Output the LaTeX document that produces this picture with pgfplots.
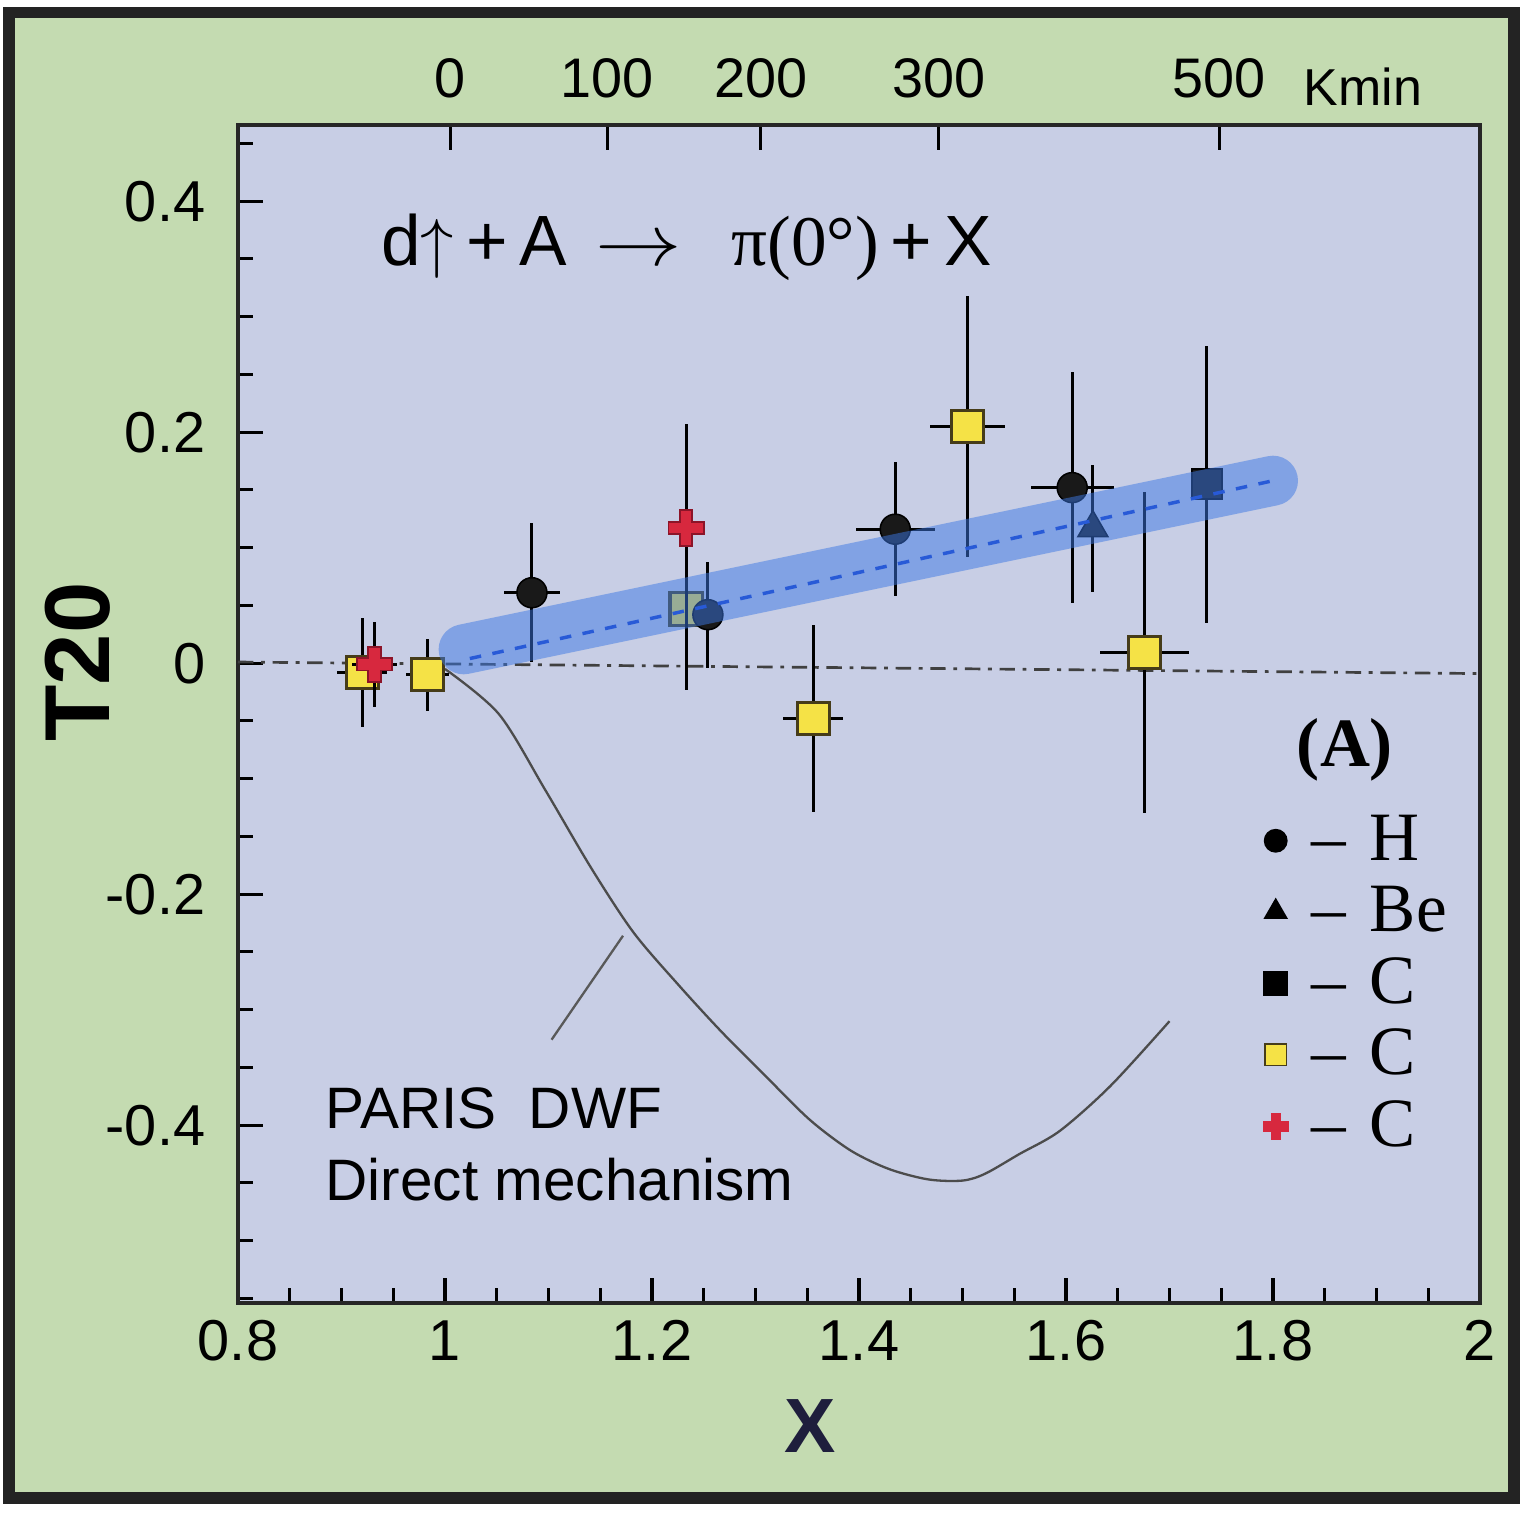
\documentclass[border=0pt]{standalone}
\usepackage{pgfplots}
\pgfplotsset{compat=1.18}
\usepackage{fontspec}
\setmainfont{Liberation Sans}
\newfontfamily\tnr{Liberation Serif}
\definecolor{greenbg}{RGB}{196,219,177}
\definecolor{axisbg}{RGB}{200,206,229}
\definecolor{framec}{RGB}{35,35,35}
\definecolor{yellowc}{RGB}{245,226,70}
\definecolor{yellowd}{RGB}{70,60,25}
\definecolor{redc}{RGB}{215,40,62}
\definecolor{redd}{RGB}{140,20,40}
\definecolor{bandc}{RGB}{60,120,228}
\definecolor{bandl}{RGB}{40,90,215}
\definecolor{navy}{RGB}{30,30,60}

\pgfdeclareplotmark{fatplus}{%
  \pgfpathmoveto{\pgfqpoint{-0.35\pgfplotmarksize}{\pgfplotmarksize}}%
  \pgfpathlineto{\pgfqpoint{0.35\pgfplotmarksize}{\pgfplotmarksize}}%
  \pgfpathlineto{\pgfqpoint{0.35\pgfplotmarksize}{0.35\pgfplotmarksize}}%
  \pgfpathlineto{\pgfqpoint{\pgfplotmarksize}{0.35\pgfplotmarksize}}%
  \pgfpathlineto{\pgfqpoint{\pgfplotmarksize}{-0.35\pgfplotmarksize}}%
  \pgfpathlineto{\pgfqpoint{0.35\pgfplotmarksize}{-0.35\pgfplotmarksize}}%
  \pgfpathlineto{\pgfqpoint{0.35\pgfplotmarksize}{-\pgfplotmarksize}}%
  \pgfpathlineto{\pgfqpoint{-0.35\pgfplotmarksize}{-\pgfplotmarksize}}%
  \pgfpathlineto{\pgfqpoint{-0.35\pgfplotmarksize}{-0.35\pgfplotmarksize}}%
  \pgfpathlineto{\pgfqpoint{-\pgfplotmarksize}{-0.35\pgfplotmarksize}}%
  \pgfpathlineto{\pgfqpoint{-\pgfplotmarksize}{0.35\pgfplotmarksize}}%
  \pgfpathlineto{\pgfqpoint{-0.35\pgfplotmarksize}{0.35\pgfplotmarksize}}%
  \pgfpathclose
  \pgfusepathqfillstroke
}

\pgfplotstableread{
x y ex ey
1.084 0.061 0.027 0.060
1.254 0.042 0.000 0.046
1.435 0.116 0.038 0.058
1.606 0.152 0.040 0.100
}\Hdata
\pgfplotstableread{
x y ex ey
1.626 0.117 0.000 0.055
}\Bedata
\pgfplotstableread{
x y ex ey
1.736 0.155 0.000 0.120
}\Cblack
\pgfplotstableread{
x y ex ey
0.920 -0.008 0.024 0.047
0.983 -0.010 0.021 0.031
1.233 0.047 0.000 0.070
1.356 -0.048 0.029 0.081
1.505 0.205 0.036 0.113
1.676 0.009 0.043 0.139
}\Cyellow
\pgfplotstableread{
x y ex ey
0.932 -0.001 0.022 0.037
1.233 0.117 0.000 0.090
}\Cred

\begin{document}
\begin{tikzpicture}
\useasboundingbox (0pt,0pt) rectangle (396.76pt,394.42pt);
\fill[white] (0pt,0pt) rectangle (396.76pt,394.42pt);
\filldraw[fill=greenbg, draw=framec, line width=3pt] (2.4pt,4.9pt) rectangle (393.6pt,391.2pt);

\begin{axis}[
  at={(61.88pt,55.64pt)}, anchor=south west,
  width=322.92pt, height=306.28pt, scale only axis,
  xmin=0.8, xmax=2.0, ymin=-0.554, ymax=0.466,
  clip marker paths=true,
  axis background/.style={fill=axisbg},
  axis line style={line width=1pt, draw=black!85},
  xtick={0.8,1,1.2,1.4,1.6,1.8,2}, xticklabels={0.8,1,1.2,1.4,1.6,1.8,2},
  minor xtick={0.85,0.9,0.95,1.05,1.1,1.15,1.25,1.3,1.35,1.45,1.5,1.55,1.65,1.7,1.75,1.85,1.9,1.95},
  ytick={-0.4,-0.2,0,0.2,0.4}, yticklabels={-0.4,-0.2,0,0.2,0.4},
  minor ytick={-0.55,-0.5,-0.45,-0.35,-0.3,-0.25,-0.15,-0.1,-0.05,0.05,0.1,0.15,0.25,0.3,0.35,0.45},
  xtick pos=bottom, ytick pos=left,
  tick align=inside,
  major tick length=6.5pt, minor tick length=3.8pt,
  every tick/.style={black, line width=0.8pt},
  tick label style={font=\fontsize{15}{18}\selectfont},
  yticklabel style={xshift=-5pt},
  xticklabel style={yshift=-1pt},
  legend cell align=left,
  legend style={at={(0.825,0.418)}, anchor=north west, draw=none, fill=none,
    font=\tnr\fontsize{18}{20}\selectfont, row sep=3.2pt, inner sep=0pt,
    nodes={inner sep=1pt}},
  error bars/error bar style={line width=0.8pt, black},
]
% zero line
\addplot[forget plot, black!75, line width=0.7pt, dash pattern=on 4pt off 2pt on 1pt off 2pt] coordinates {(0.8,0.001) (2.0,-0.009)};
% theory curve
\addplot[forget plot, black!70, line width=0.6pt, smooth] coordinates {
(1.000,-0.005) (1.052,-0.044) (1.097,-0.110) (1.141,-0.177) (1.182,-0.233)
(1.226,-0.279) (1.267,-0.319) (1.307,-0.355) (1.352,-0.395) (1.392,-0.422)
(1.429,-0.438) (1.467,-0.447) (1.500,-0.448) (1.522,-0.442) (1.555,-0.425)
(1.594,-0.405) (1.643,-0.366) (1.700,-0.310)};
% pointer line
\addplot[forget plot, black!65, line width=0.6pt] coordinates {(1.103,-0.326) (1.172,-0.236)};

% yellow squares
\addplot[forget plot, only marks, mark=square*, mark size=4.2pt,
  mark options={fill=yellowc, draw=yellowd, line width=0.8pt},
  error bars/.cd, x dir=both, x explicit, y dir=both, y explicit, error mark=none]
  table[x=x, y=y, x error=ex, y error=ey] {\Cyellow};
% red crosses
\addplot[forget plot, only marks, mark=fatplus, mark size=4.6pt,
  mark options={fill=redc, draw=redd, line width=0.5pt},
  error bars/.cd, x dir=both, x explicit, y dir=both, y explicit, error mark=none]
  table[x=x, y=y, x error=ex, y error=ey] {\Cred};
% H circles
\addplot[forget plot, only marks, mark=*, mark size=3.9pt,
  mark options={fill=black!90, draw=black},
  error bars/.cd, x dir=both, x explicit, y dir=both, y explicit, error mark=none]
  table[x=x, y=y, x error=ex, y error=ey] {\Hdata};
% Be triangle
\addplot[forget plot, only marks, mark=triangle*, mark size=4.5pt,
  mark options={fill=black!90, draw=black},
  error bars/.cd, x dir=both, x explicit, y dir=both, y explicit, error mark=none]
  table[x=x, y=y, x error=ex, y error=ey] {\Bedata};
% C black square
\addplot[forget plot, only marks, mark=square*, mark size=3.9pt,
  mark options={fill=black!90, draw=black},
  error bars/.cd, x dir=both, x explicit, y dir=both, y explicit, error mark=none]
  table[x=x, y=y, x error=ex, y error=ey] {\Cblack};

% blue band
\addplot[forget plot, bandc, opacity=0.5, line width=13pt, line cap=round] coordinates {(1.018,0.012) (1.80,0.158)};
\addplot[forget plot, bandl, line width=0.9pt, dash pattern=on 3pt off 3pt] coordinates {(1.024,0.004) (1.80,0.158)};

% legend
\addlegendimage{only marks, mark=*, mark size=2.9pt, black}
\addlegendentry{\hspace{5pt}–\hspace{0.35em}H}
\addlegendimage{only marks, mark=triangle*, mark size=3.3pt, black}
\addlegendentry{\hspace{5pt}–\hspace{0.35em}Be}
\addlegendimage{only marks, mark=square*, mark size=3pt, black}
\addlegendentry{\hspace{5pt}–\hspace{0.35em}C}
\addlegendimage{only marks, mark=square*, mark size=2.8pt, mark options={fill=yellowc, draw=yellowd}}
\addlegendentry{\hspace{5pt}–\hspace{0.35em}C}
\addlegendimage{only marks, mark=fatplus, mark size=3.2pt, mark options={fill=redc, draw=redc}}
\addlegendentry{\hspace{5pt}–\hspace{0.35em}C}
\end{axis}

\begin{axis}[
  at={(61.88pt,55.64pt)}, anchor=south west,
  width=322.92pt, height=306.28pt, scale only axis,
  xmin=0.8, xmax=2.0, ymin=-0.554, ymax=0.466,
  axis x line*=top, axis y line=none,
  x axis line style={line width=1pt, draw=black!85},
  xtick={1.005,1.157,1.305,1.477,1.748}, xticklabels={0,100,200,300,500},
  tick align=inside, major tick length=6.5pt,
  every tick/.style={black, line width=0.8pt},
  xticklabel style={font=\fontsize{14.5}{17}\selectfont, yshift=3.5pt},
]
\addplot[draw=none] coordinates {(1,0)};
\end{axis}

\node[font=\bfseries\fontsize{20}{24}\selectfont, text=navy] at (210.6pt,23.7pt) {X};
\node[font=\bfseries\fontsize{24}{28}\selectfont, rotate=90] at (20.3pt,222.3pt) {T20};
\node[font=\fontsize{13.5}{16}\selectfont] at (354.4pt,371.8pt) {Kmin};
\node[font=\fontsize{18.5}{21}\selectfont, anchor=base, inner sep=0pt] at (178.5pt,325.5pt)
  {d$\uparrow$\,+\,A\hspace{0.4em}\scalebox{1.3}[1.1]{$\rightarrow$}\hspace{0.7em}{\tnr π(0°)}\,+\,X};
\node[font=\fontsize{15.2}{18}\selectfont, anchor=base west, inner sep=0pt] at (84.5pt,101.1pt) {PARIS\hspace{0.55em}DWF};
\node[font=\fontsize{15.2}{18}\selectfont, anchor=base west, inner sep=0pt] at (84.5pt,82.4pt) {Direct mechanism};
\node[font=\tnr\bfseries\fontsize{18}{21}\selectfont] at (349.7pt,199.4pt) {(A)};
\end{tikzpicture}
\end{document}
